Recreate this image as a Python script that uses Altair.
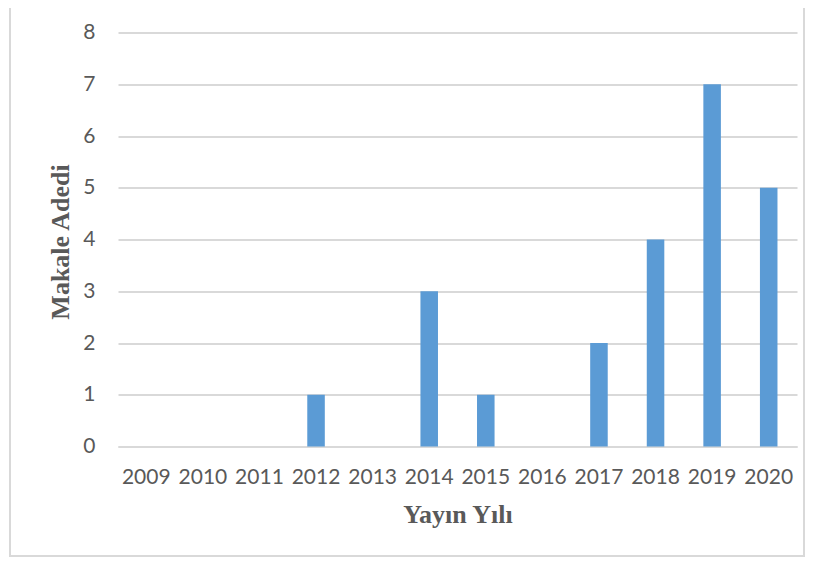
import altair as alt
import pandas as pd

years = ["2009", "2010", "2011", "2012", "2013", "2014", "2015", "2016", "2017", "2018", "2019", "2020"]
counts = [0, 0, 0, 1, 0, 3, 1, 0, 2, 4, 7, 5]
y_ticks = [0, 1, 2, 3, 4, 5, 6, 7, 8]

df = pd.DataFrame({"Yıl": years, "Adet": counts})

W, H = 679, 414
PL, PT = 110, 24.5

bars = alt.Chart(df).mark_bar(color="#5b9bd5").encode(
    x=alt.X(
        "Yıl:N",
        sort=years,
        scale=alt.Scale(paddingInner=0.69, paddingOuter=0.345),
        axis=alt.Axis(
            title="Yayın Yılı",
            labelAngle=0,
            labelFont="Lato",
            labelFontSize=21,
            labelColor="#595959",
            labelPadding=20,
            labelOverlap=False,
            ticks=False,
            domainColor="#d9d9d9",
            domainWidth=2,
            titleFont="Liberation Serif",
            titleFontSize=26,
            titleFontWeight="bold",
            titleColor="#595959",
            titleBaseline="alphabetic",
            titleY=76,
        ),
    ),
    y=alt.Y(
        "Adet:Q",
        scale=alt.Scale(domain=[0, 8], nice=False),
        axis=alt.Axis(
            title="Makale Adedi",
            values=y_ticks,
            format="d",
            labelFont="Lato",
            labelFontSize=21,
            labelColor="#595959",
            labelPadding=23,
            ticks=False,
            domain=False,
            gridColor="#d9d9d9",
            gridWidth=2,
            titleFont="Liberation Serif",
            titleFontSize=26,
            titleFontWeight="bold",
            titleColor="#595959",
            titleAngle=-90,
            titleAlign="center",
            titleBaseline="middle",
            titleX=-58,
            titleY=H / 2 + 2,
        ),
    ),
)

border = alt.Chart(df).mark_rect(
    fill=None, stroke="#d9d9d9", strokeWidth=1.5
).encode(
    x=alt.value(-108),
    x2=alt.value(686),
    y=alt.value(-28.5),
    y2=alt.value(523.5),
)

chart = alt.layer(bars, border).properties(
    width=W,
    height=H,
    autosize=alt.AutoSizeParams(type="none"),
    padding={"left": PL, "top": PT, "right": 8, "bottom": 110},
).configure_view(stroke=None)

chart.save("out.html", embed_options={"renderer": "svg", "actions": False})
